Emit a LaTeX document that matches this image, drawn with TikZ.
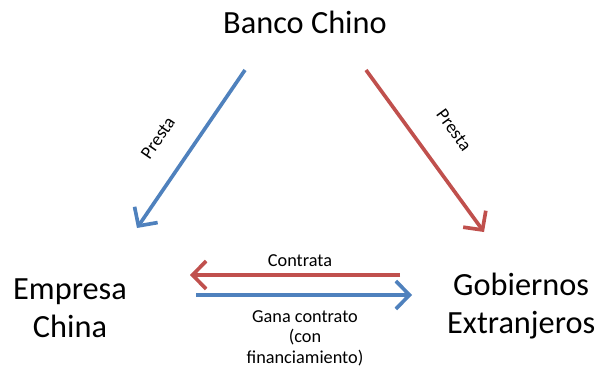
\documentclass[tikz,border=0pt]{standalone}
\usepackage{fontspec}
\setmainfont{Carlito}
\usetikzlibrary{positioning, arrows.meta}
\definecolor{offblue}{RGB}{79,129,189}
\definecolor{offred}{RGB}{192,80,77}

\begin{document}
\begin{tikzpicture}[
    actor/.style={align=center, font=\fontsize{23}{27}\selectfont},
    tag/.style={font=\fontsize{13}{14.5}\selectfont, align=center},
    flow/.style={line width=2.6pt, -{Straight Barb[length=3.4mm, width=7mm, line width=2.6pt]}}
]
\useasboundingbox (0,0) rectangle (15,9.2);

% Actors
\node[actor] (banco) at (7.625,8.65) {Banco Chino};
\node[actor] (empresa) at (1.75,1.5) {Empresa\\China};
\node[actor] (gobiernos) at (13.03,1.55) {Gobiernos\\Extranjeros};

% Arrow end points
\coordinate (b1) at (6.125,7.45);
\coordinate (e1) at (3.425,3.5);
\coordinate (b2) at (9.15,7.45);
\coordinate (g1) at (12.1,3.4);
\coordinate (g2) at (10.0,2.325);
\coordinate (e2) at (4.75,2.325);
\coordinate (e3) at (4.9,1.825);
\coordinate (g3) at (10.3,1.825);

% Loans
\draw[flow, offblue] (b1) -- (e1);
\draw[flow, offred] (b2) -- (g1);
\node[tag, rotate=55.6] (presta1) at (3.95,5.75) {Presta};
\node[tag, rotate=-54] (presta2) at (11.35,5.95) {Presta};

% Contract
\draw[flow, offred] (g2) -- (e2);
\draw[flow, offblue] (e3) -- (g3);
\node[tag] (contrata) at (7.5,2.68) {Contrata};
\node[tag] (gana) at (7.625,0.75) {Gana contrato\\(con\\financiamiento)};

\end{tikzpicture}
\end{document}
